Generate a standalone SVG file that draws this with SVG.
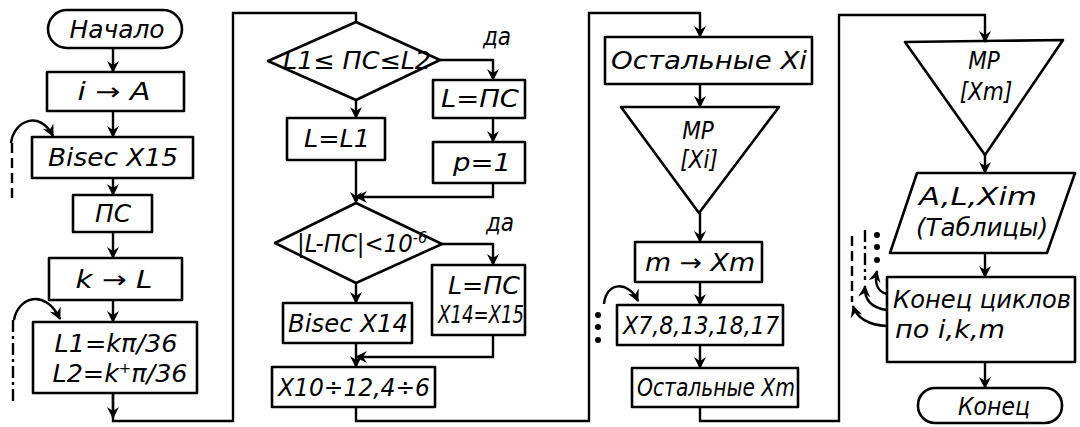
<svg xmlns="http://www.w3.org/2000/svg" width="1080" height="427" viewBox="0 0 1080 427">
<style>
.s{fill:none;stroke:#000;stroke-width:2.6;stroke-linejoin:round}
.c{fill:none;stroke:#000;stroke-width:2.4}
.d{fill:none;stroke:#000;stroke-width:2.4;stroke-dasharray:10,5}
.dd{fill:none;stroke:#000;stroke-width:2.4;stroke-dasharray:12,4,3,4}
.t{font-family:"DejaVu Sans Condensed","Liberation Sans",sans-serif;font-style:italic;font-size:24px;fill:#000;text-anchor:middle}
.dot{fill:#000}
</style>
<defs>
<marker id="a" markerUnits="userSpaceOnUse" markerWidth="12" markerHeight="14" viewBox="0 0 12 14" refX="11" refY="7" orient="auto">
<path d="M0,1 L12,7 L0,13 L4,7 z" fill="#000"/>
</marker>
</defs>
<g id="connectors">
<line class="c" x1="113" y1="48" x2="113" y2="72" marker-end="url(#a)"/>
<line class="c" x1="113" y1="111" x2="113" y2="137" marker-end="url(#a)"/>
<line class="c" x1="113" y1="178" x2="113" y2="195" marker-end="url(#a)"/>
<line class="c" x1="113" y1="232" x2="113" y2="258" marker-end="url(#a)"/>
<line class="c" x1="113" y1="300" x2="113" y2="322" marker-end="url(#a)"/>
<polyline class="c" points="113,393 113,421 233,421 233,13 356,13 356,22"/>
<line class="c" x1="113" y1="393" x2="113" y2="418" marker-end="url(#a)"/>
<path class="c" d="M11,143 C14,120 40,110 53,136" marker-end="url(#a)"/>
<line class="d" x1="12" y1="143" x2="12" y2="200"/>
<path class="c" d="M14,320 C18,297 45,288 60,319" marker-end="url(#a)"/>
<line class="dd" x1="13" y1="320" x2="13" y2="404"/>
<line class="c" x1="356" y1="100" x2="356" y2="118" marker-end="url(#a)"/>
<polyline class="c" points="440,60 493,60 493,80" marker-end="url(#a)"/>
<line class="c" x1="493" y1="118" x2="493" y2="142" marker-end="url(#a)"/>
<line class="c" x1="356" y1="160" x2="356" y2="203" marker-end="url(#a)"/>
<polyline class="c" points="493,183 493,197 356,197" marker-end="url(#a)"/>
<polyline class="c" points="442,244 493,244 493,265" marker-end="url(#a)"/>
<line class="c" x1="356" y1="283" x2="356" y2="303" marker-end="url(#a)"/>
<line class="c" x1="356" y1="343" x2="356" y2="367" marker-end="url(#a)"/>
<polyline class="c" points="493,335 493,357 356,357" marker-end="url(#a)"/>
<polyline class="c" points="356,407 356,421 589,421 589,13 700,13 700,37" marker-end="url(#a)"/>
<line class="c" x1="700" y1="84" x2="700" y2="107" marker-end="url(#a)"/>
<line class="c" x1="700" y1="213" x2="700" y2="242" marker-end="url(#a)"/>
<line class="c" x1="700" y1="282" x2="700" y2="305" marker-end="url(#a)"/>
<line class="c" x1="700" y1="345" x2="700" y2="368" marker-end="url(#a)"/>
<path class="c" d="M604,304 C606,282 628,280 638,301" marker-end="url(#a)"/>
<circle class="dot" cx="598" cy="315" r="3"/>
<circle class="dot" cx="598" cy="327" r="3"/>
<circle class="dot" cx="598" cy="340" r="3"/>
<polyline class="c" points="700,407 700,421 839,421 839,15 985,15 985,42" marker-end="url(#a)"/>
<line class="c" x1="985" y1="155" x2="985" y2="173" marker-end="url(#a)"/>
<line class="c" x1="985" y1="253" x2="985" y2="277" marker-end="url(#a)"/>
<line class="c" x1="985" y1="362" x2="985" y2="388" marker-end="url(#a)"/>
<path class="c" d="M887,294 C878,292 874,284 877,271" marker-end="url(#a)"/>
<path class="c" d="M887,310 C872,308 864,300 865,286" marker-end="url(#a)"/>
<path class="c" d="M887,326 C868,325 857,318 853,306" marker-end="url(#a)"/>
<line class="d" x1="852" y1="236" x2="852" y2="302"/>
<line class="dd" x1="865" y1="230" x2="865" y2="280"/>
<circle class="dot" cx="877" cy="235" r="3"/>
<circle class="dot" cx="877" cy="247" r="3"/>
<circle class="dot" cx="877" cy="260" r="3"/>
</g>
<g id="n-start"><rect class="s" x="48" y="10" width="134" height="38" rx="19"/><text class="t" x="117" y="38" textLength="95" lengthAdjust="spacingAndGlyphs">Начало</text></g>
<g id="n-iA"><rect class="s" x="47" y="72" width="137" height="39"/><text class="t" x="114" y="100" textLength="73" lengthAdjust="spacingAndGlyphs">i → A</text></g>
<g id="n-bisec15"><rect class="s" x="32" y="137" width="161" height="41"/><text class="t" x="113" y="166" textLength="130" lengthAdjust="spacingAndGlyphs">Bisec X15</text></g>
<g id="n-pc"><rect class="s" x="73" y="195" width="79" height="37"/><text class="t" x="113" y="222" textLength="36" lengthAdjust="spacingAndGlyphs">ПС</text></g>
<g id="n-kL"><rect class="s" x="49" y="258" width="133" height="42"/><text class="t" x="114" y="288" textLength="77" lengthAdjust="spacingAndGlyphs">k → L</text></g>
<g id="n-L12"><rect class="s" x="33" y="322" width="164" height="71"/><text class="t" x="116" y="352" textLength="123" lengthAdjust="spacingAndGlyphs">L1=kπ/36</text><text class="t" x="120" y="382" textLength="135" lengthAdjust="spacingAndGlyphs">L2=k<tspan font-size="14" dy="-9">+</tspan><tspan dy="9">π/36</tspan></text></g>
<g id="n-dec1"><polygon class="s" points="356,22 440,60 356,100 268,61"/><text class="t" x="357" y="69" textLength="148" lengthAdjust="spacingAndGlyphs">L1≤ ПС≤L2</text></g>
<text class="t" x="497" y="45">да</text>
<g id="n-LPC1"><rect class="s" x="433" y="80" width="92" height="38"/><text class="t" x="480" y="107" textLength="78" lengthAdjust="spacingAndGlyphs">L=ПС</text></g>
<g id="n-p1"><rect class="s" x="433" y="142" width="92" height="41"/><text class="t" x="482" y="171" textLength="58" lengthAdjust="spacingAndGlyphs">p=1</text></g>
<g id="n-LL1"><rect class="s" x="287" y="118" width="98" height="42"/><text class="t" x="337" y="147" textLength="66" lengthAdjust="spacingAndGlyphs">L=L1</text></g>
<g id="n-dec2"><polygon class="s" points="356,203 442,244 356,283 275,243"/><text class="t" x="362" y="252" textLength="130" lengthAdjust="spacingAndGlyphs">|L-ПС|&lt;10<tspan font-size="15" dy="-9">-6</tspan></text></g>
<text class="t" x="500" y="231">да</text>
<g id="n-LPC2"><rect class="s" x="432" y="265" width="93" height="70"/><text class="t" x="484" y="294" textLength="72" lengthAdjust="spacingAndGlyphs">L=ПС</text><text class="t" x="481" y="323" textLength="86" lengthAdjust="spacingAndGlyphs">X14=X15</text></g>
<g id="n-bisec14"><rect class="s" x="283" y="303" width="129" height="40"/><text class="t" x="348" y="332" textLength="120" lengthAdjust="spacingAndGlyphs">Bisec X14</text></g>
<g id="n-x10"><rect class="s" x="272" y="367" width="163" height="40"/><text class="t" x="354" y="396" textLength="152" lengthAdjust="spacingAndGlyphs">X10÷12,4÷6</text></g>
<g id="n-restXi"><rect class="s" x="605" y="37" width="207" height="47"/><text class="t" x="709" y="69" textLength="196" lengthAdjust="spacingAndGlyphs">Остальные Xi</text></g>
<g id="n-mpXi"><polygon class="s" points="621,107 779,107 699,213"/><text class="t" x="698" y="139">МР</text><text class="t" x="699" y="168">[Xi]</text></g>
<g id="n-mXm"><rect class="s" x="635" y="242" width="127" height="40"/><text class="t" x="700" y="271" textLength="110" lengthAdjust="spacingAndGlyphs">m → Xm</text></g>
<g id="n-x7"><rect class="s" x="617" y="305" width="166" height="40"/><text class="t" x="701" y="334" textLength="156" lengthAdjust="spacingAndGlyphs">X7,8,13,18,17</text></g>
<g id="n-restXm"><rect class="s" x="632" y="368" width="166" height="39"/><text class="t" x="716" y="396" textLength="158" lengthAdjust="spacingAndGlyphs">Остальные Xm</text></g>
<g id="n-mpXm"><polygon class="s" points="905,42 1063,40 985,155"/><text class="t" x="984" y="69">МР</text><text class="t" x="986" y="100">[Xm]</text></g>
<g id="n-tables"><polygon class="s" points="917,173 1075,173 1047,253 890,253"/><text class="t" x="978" y="205" textLength="118" lengthAdjust="spacingAndGlyphs">A,L,Xim</text><text class="t" x="982" y="236" textLength="132" lengthAdjust="spacingAndGlyphs">(Таблицы)</text></g>
<g id="n-endloops"><rect class="s" x="887" y="277" width="188" height="85"/><text class="t" x="982" y="308" textLength="178" lengthAdjust="spacingAndGlyphs">Конец циклов</text><text class="t" x="950" y="338" textLength="110" lengthAdjust="spacingAndGlyphs">по i,k,m</text></g>
<g id="n-end"><rect class="s" x="918" y="388" width="144" height="35" rx="17"/><text class="t" x="994" y="415" textLength="72" lengthAdjust="spacingAndGlyphs">Конец</text></g>
</svg>
